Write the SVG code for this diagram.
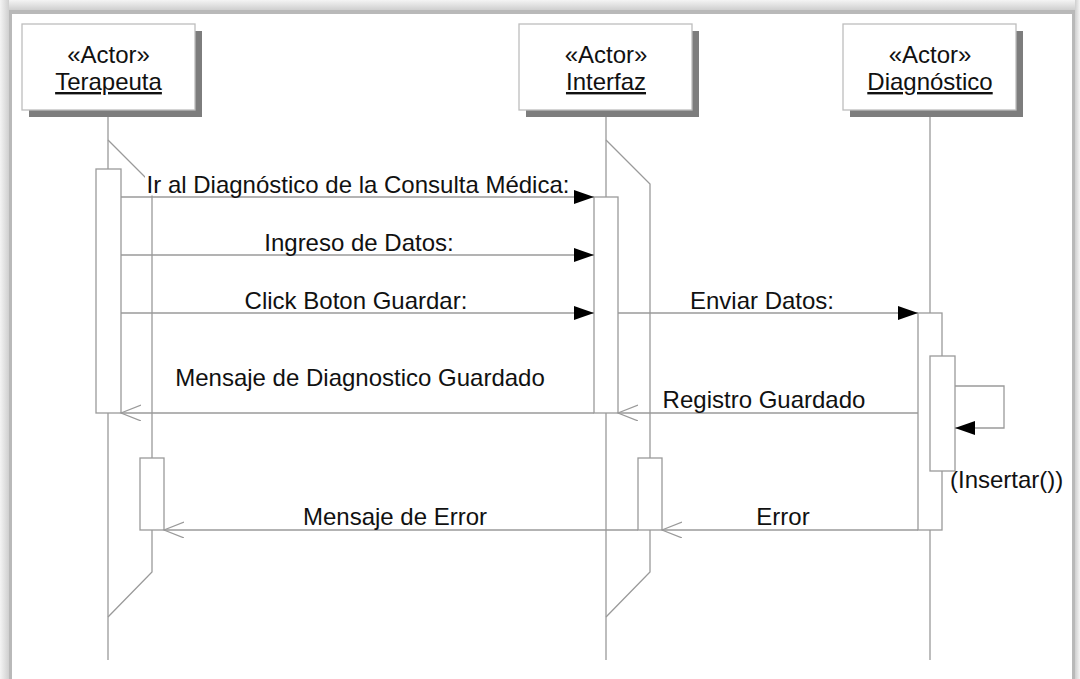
<svg xmlns="http://www.w3.org/2000/svg" width="1080" height="679" viewBox="0 0 1080 679">
<defs>
<linearGradient id="gTop" x1="0" y1="0" x2="0" y2="1"><stop offset="0" stop-color="#f4f4f4"/><stop offset="1" stop-color="#cfcfcf"/></linearGradient>
<linearGradient id="gLeft" x1="0" y1="0" x2="1" y2="0"><stop offset="0" stop-color="#f4f4f4"/><stop offset="1" stop-color="#cfcfcf"/></linearGradient>
<linearGradient id="gRight" x1="1" y1="0" x2="0" y2="0"><stop offset="0" stop-color="#f4f4f4"/><stop offset="1" stop-color="#cfcfcf"/></linearGradient>
<marker id="fillArrow" markerUnits="userSpaceOnUse" markerWidth="22" markerHeight="16" refX="20" refY="7" orient="auto"><path d="M0,0 L20,7 L0,14 z" fill="#000"/></marker>
<marker id="openArrow" markerUnits="userSpaceOnUse" markerWidth="22" markerHeight="18" refX="20" refY="8" orient="auto"><path d="M0,0 L20,8 L0,16" fill="none" stroke="#9a9a9a" stroke-width="1.2"/></marker>
</defs>
<style>
.ln{stroke:#9a9a9a;stroke-width:1.3;fill:none}
.act{fill:#fff;stroke:#9a9a9a;stroke-width:1.3}
.box{fill:#fff;stroke:#bdbdbd;stroke-width:1.3}
.shd{fill:#7d7d7d}
.t{font-family:"Liberation Sans",Arial,sans-serif;font-size:24px;fill:#111}
.c{text-anchor:middle}
.u{text-decoration:underline}
.bg{fill:#fff}
.msg{stroke:#9a9a9a;stroke-width:1.3;fill:none}
</style>
<!-- frame -->
<rect x="0" y="0" width="1080" height="679" fill="#d8d8d8"/>
<rect x="0" y="0" width="1080" height="10" fill="url(#gTop)"/>
<rect x="0" y="0" width="9" height="679" fill="url(#gLeft)"/>
<rect x="1075" y="0" width="5" height="679" fill="url(#gRight)"/>
<rect x="9" y="10" width="1066" height="669" fill="#b9b9b9"/>
<rect x="12" y="14" width="1060" height="665" fill="#fff"/>

<g id="lifelines">
<line class="ln" x1="108" y1="110" x2="108" y2="660"/>
<polyline class="ln" points="108,140 152,184 152,572 108,617"/>
<line class="ln" x1="606" y1="110" x2="606" y2="660"/>
<polyline class="ln" points="606,140 650,184 650,572 606,617"/>
<line class="ln" x1="930" y1="110" x2="930" y2="660"/>
</g>

<g id="terapeuta">
<rect class="shd" x="29" y="31" width="173" height="86"/>
<rect class="box" x="22" y="24" width="173" height="86"/>
<text class="t c" x="108.5" y="63">«Actor»</text>
<text class="t c u" x="108.5" y="90">Terapeuta</text>
<rect class="act" x="96" y="169" width="25" height="244"/>
<rect class="act" x="140" y="458" width="24" height="72"/>
</g>

<g id="interfaz">
<rect class="shd" x="526" y="31" width="173" height="86"/>
<rect class="box" x="519" y="24" width="173" height="86"/>
<text class="t c" x="606" y="63">«Actor»</text>
<text class="t c u" x="606" y="90">Interfaz</text>
<rect class="act" x="594" y="197" width="24" height="216"/>
<rect class="act" x="638" y="458" width="24" height="72"/>
</g>

<g id="diagnostico">
<rect class="shd" x="850" y="31" width="173" height="86"/>
<rect class="box" x="843" y="24" width="173" height="86"/>
<text class="t c" x="930" y="63">«Actor»</text>
<text class="t c u" x="930" y="90">Diagnóstico</text>
<rect class="act" x="918" y="313" width="24" height="217"/>
<rect class="act" x="930" y="356" width="25" height="115"/>
</g>

<g id="labelbg">
<rect class="bg" x="145" y="174" width="426" height="21.5"/>
</g>

<g id="connectors">
<line class="msg" x1="121" y1="197" x2="594" y2="197" marker-end="url(#fillArrow)"/>
<line class="msg" x1="121" y1="255" x2="594" y2="255" marker-end="url(#fillArrow)"/>
<line class="msg" x1="121" y1="313" x2="594" y2="313" marker-end="url(#fillArrow)"/>
<line class="msg" x1="618" y1="313" x2="918" y2="313" marker-end="url(#fillArrow)"/>
<line class="msg" x1="594" y1="413" x2="121" y2="413" marker-end="url(#openArrow)"/>
<line class="msg" x1="918" y1="413" x2="618" y2="413" marker-end="url(#openArrow)"/>
<line class="msg" x1="638" y1="530" x2="164" y2="530" marker-end="url(#openArrow)"/>
<line class="msg" x1="918" y1="530" x2="662" y2="530" marker-end="url(#openArrow)"/>
<path class="msg" d="M955,386 H1004 V428 H955" marker-end="url(#fillArrow)"/>
</g>

<g id="labels">
<text class="t c" x="358" y="193">Ir al Diagnóstico de la Consulta Médica:</text>
<text class="t c" x="359" y="251">Ingreso de Datos:</text>
<text class="t c" x="356" y="309">Click Boton Guardar:</text>
<text class="t c" x="762" y="309">Enviar Datos:</text>
<text class="t c" x="360" y="386">Mensaje de Diagnostico Guardado</text>
<text class="t c" x="764" y="408">Registro Guardado</text>
<text class="t c" x="395" y="525">Mensaje de Error</text>
<text class="t c" x="783" y="525">Error</text>
<text class="t" x="950" y="488">(Insertar())</text>
</g>
</svg>
